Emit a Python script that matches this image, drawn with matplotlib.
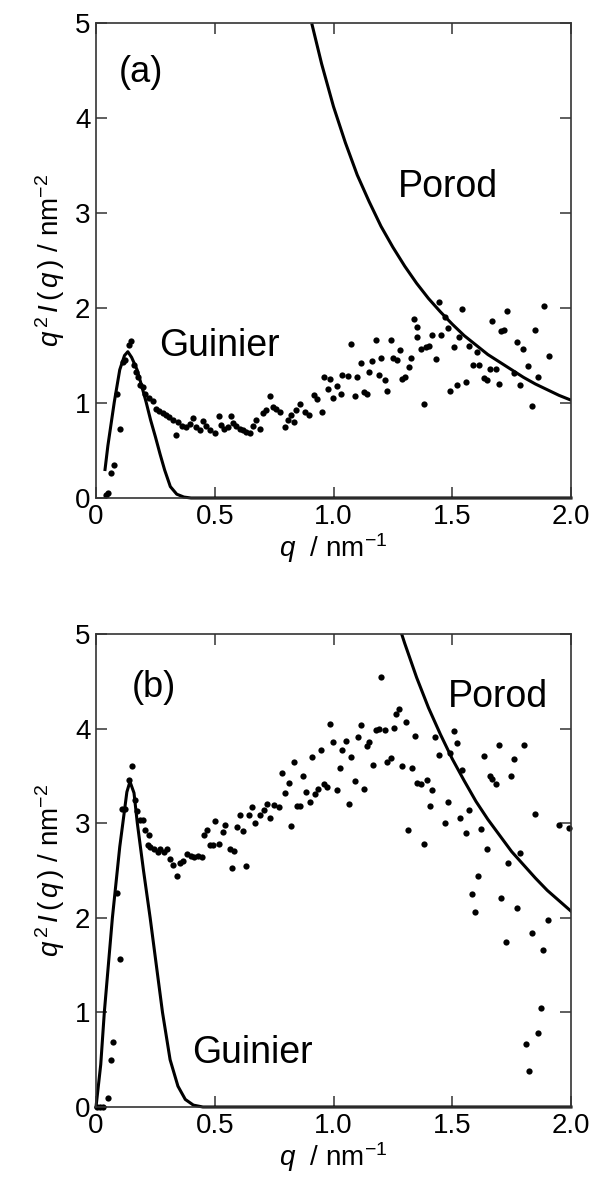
import matplotlib
matplotlib.use('Agg')
from matplotlib import pyplot as plt

plt.rcParams['font.family'] = ['Liberation Sans', 'DejaVu Sans']
plt.rcParams['mathtext.fontset'] = 'custom'
plt.rcParams['mathtext.rm'] = 'Liberation Sans'
plt.rcParams['mathtext.it'] = 'Liberation Sans:italic'

# ---- panel (a): measured points ----
q_a = [0.042, 0.050, 0.062, 0.074, 0.087, 0.101, 0.113, 0.124, 0.141, 0.148,
       0.162, 0.169, 0.176, 0.186, 0.197, 0.208, 0.222, 0.239, 0.253, 0.267,
       0.281, 0.295, 0.309, 0.323, 0.338, 0.345, 0.363, 0.377, 0.394, 0.408,
       0.422, 0.436, 0.450, 0.464, 0.481, 0.499, 0.518, 0.527, 0.541, 0.556,
       0.570, 0.577, 0.591, 0.605, 0.619, 0.633, 0.647, 0.661, 0.675, 0.689,
       0.703, 0.717, 0.731, 0.745, 0.759, 0.774, 0.795, 0.809, 0.823, 0.833,
       0.844, 0.861, 0.882, 0.896, 0.917, 0.931, 0.952, 0.959, 0.977, 0.984,
       0.999, 1.013, 1.030, 1.037, 1.061, 1.075, 1.089, 1.100, 1.114, 1.128,
       1.139, 1.150, 1.164, 1.177, 1.191, 1.201, 1.215, 1.226, 1.240, 1.251,
       1.266, 1.280, 1.289, 1.303, 1.317, 1.327, 1.341, 1.353, 1.353, 1.367,
       1.381, 1.388, 1.402, 1.416, 1.430, 1.444, 1.454, 1.468, 1.480, 1.491,
       1.508, 1.519, 1.529, 1.543, 1.557, 1.571, 1.589, 1.606, 1.613, 1.632,
       1.648, 1.660, 1.669, 1.684, 1.697, 1.707, 1.718, 1.732, 1.758, 1.772,
       1.786, 1.796, 1.820, 1.834, 1.848, 1.859, 1.885, 1.909]
i_a = [0.03, 0.05, 0.26, 0.35, 1.10, 0.73, 1.43, 1.45, 1.61, 1.65,
       1.40, 1.33, 1.27, 1.19, 1.17, 1.10, 1.05, 1.02, 0.94, 0.92,
       0.90, 0.87, 0.85, 0.82, 0.66, 0.80, 0.76, 0.75, 0.78, 0.84,
       0.75, 0.72, 0.81, 0.76, 0.72, 0.68, 0.86, 0.77, 0.73, 0.75,
       0.86, 0.79, 0.76, 0.73, 0.72, 0.70, 0.68, 0.76, 0.82, 0.73,
       0.89, 0.93, 1.07, 0.96, 0.94, 0.91, 0.75, 0.82, 0.87, 0.80,
       0.93, 0.99, 0.91, 0.87, 1.08, 1.04, 0.91, 1.27, 1.15, 1.25,
       1.05, 1.18, 1.09, 1.30, 1.28, 1.62, 1.07, 1.27, 1.42, 1.12,
       1.10, 1.33, 1.44, 1.66, 1.29, 1.47, 1.24, 1.13, 1.66, 1.47,
       1.45, 1.56, 1.25, 1.27, 1.38, 1.47, 1.88, 1.70, 1.80, 1.57,
       0.99, 1.59, 1.60, 1.72, 1.46, 2.06, 1.72, 1.91, 1.79, 1.13,
       1.59, 1.19, 1.69, 1.99, 1.22, 1.60, 1.40, 1.54, 1.40, 1.26,
       1.24, 1.36, 1.86, 1.36, 1.20, 1.76, 1.77, 1.97, 1.32, 1.64,
       1.19, 1.57, 1.39, 0.97, 1.77, 1.27, 2.02, 1.49]

# panel (a): Guinier and Porod lines
guin_q_a = [0.038, 0.05, 0.077, 0.10, 0.12, 0.134, 0.15, 0.173, 0.19, 0.211,
            0.23, 0.25, 0.27, 0.289, 0.313, 0.34, 0.37, 0.40, 0.5, 1.0, 2.0]
guin_i_a = [0.30, 0.55, 1.01, 1.35, 1.50, 1.54, 1.48, 1.35, 1.20, 1.01,
            0.82, 0.645, 0.46, 0.295, 0.12, 0.04, 0.01, 0.0, 0.0, 0.0, 0.0]
porod_q_a = [0.91, 0.95, 1.00, 1.05, 1.10, 1.15, 1.20, 1.25, 1.30, 1.35, 1.40,
             1.45, 1.50, 1.55, 1.60, 1.65, 1.70, 1.75, 1.80, 1.85, 1.90, 1.95, 2.00]
porod_i_a = [4.98, 4.57, 4.12, 3.74, 3.40, 3.12, 2.86, 2.64, 2.44, 2.26, 2.10,
             1.96, 1.83, 1.71, 1.61, 1.51, 1.43, 1.35, 1.27, 1.20, 1.14, 1.08, 1.03]

# ---- panel (b): measured points ----
q_b = [0.006, 0.017, 0.030, 0.052, 0.062, 0.073, 0.087, 0.101, 0.108, 0.122,
       0.138, 0.152, 0.164, 0.174, 0.186, 0.197, 0.207, 0.217, 0.225, 0.228,
       0.245, 0.259, 0.270, 0.287, 0.301, 0.312, 0.326, 0.340, 0.352, 0.366,
       0.383, 0.400, 0.411, 0.428, 0.446, 0.456, 0.467, 0.478, 0.492, 0.502,
       0.516, 0.534, 0.544, 0.565, 0.572, 0.582, 0.593, 0.608, 0.619, 0.633,
       0.643, 0.657, 0.671, 0.692, 0.709, 0.720, 0.734, 0.748, 0.769, 0.783,
       0.797, 0.811, 0.823, 0.835, 0.847, 0.861, 0.872, 0.886, 0.900, 0.910,
       0.924, 0.934, 0.948, 0.962, 0.973, 0.987, 0.999, 1.013, 1.027, 1.037,
       1.051, 1.065, 1.075, 1.089, 1.102, 1.114, 1.128, 1.139, 1.149, 1.167,
       1.177, 1.191, 1.201, 1.215, 1.226, 1.240, 1.254, 1.262, 1.276, 1.290,
       1.304, 1.315, 1.329, 1.342, 1.353, 1.367, 1.379, 1.393, 1.407, 1.416,
       1.426, 1.444, 1.469, 1.480, 1.491, 1.508, 1.519, 1.533, 1.543, 1.557,
       1.571, 1.585, 1.595, 1.609, 1.620, 1.632, 1.648, 1.660, 1.669, 1.684,
       1.697, 1.707, 1.726, 1.736, 1.747, 1.758, 1.772, 1.786, 1.800, 1.810,
       1.825, 1.834, 1.848, 1.859, 1.873, 1.884, 1.904, 1.950, 1.990]
i_b = [0.0, 0.0, 0.0, 0.10, 0.50, 0.69, 2.26, 1.56, 3.15, 3.15,
       3.46, 3.60, 3.25, 3.13, 3.03, 3.03, 2.93, 2.77, 2.87, 2.75,
       2.73, 2.70, 2.73, 2.70, 2.73, 2.62, 2.56, 2.44, 2.58, 2.60,
       2.67, 2.65, 2.64, 2.65, 2.64, 2.87, 2.93, 2.77, 2.77, 3.02,
       2.78, 2.91, 2.98, 2.73, 2.53, 2.71, 2.96, 3.09, 2.92, 2.55,
       3.09, 3.17, 3.00, 3.09, 3.14, 3.20, 3.06, 3.19, 3.17, 3.53,
       3.32, 3.43, 2.97, 3.65, 3.18, 3.18, 3.50, 3.33, 3.22, 3.70,
       3.31, 3.36, 3.77, 3.41, 3.38, 4.05, 3.86, 3.35, 3.58, 3.77,
       3.87, 3.20, 3.70, 3.45, 3.91, 4.04, 3.36, 3.82, 3.86, 3.61,
       3.99, 4.00, 4.55, 3.98, 3.65, 3.69, 4.01, 4.15, 4.21, 3.60,
       4.07, 2.93, 3.58, 3.92, 3.43, 3.41, 2.78, 3.46, 3.18, 3.35,
       3.91, 3.72, 3.00, 3.22, 3.74, 3.97, 3.85, 3.05, 3.56, 2.90,
       3.14, 2.25, 2.06, 2.44, 2.94, 3.71, 2.73, 3.50, 3.47, 3.41,
       3.83, 2.21, 1.74, 2.58, 3.50, 3.68, 2.10, 2.68, 3.83, 0.67,
       0.38, 1.84, 3.10, 0.78, 1.05, 1.66, 1.98, 2.98, 2.95]

guin_q_b = [0.0, 0.02, 0.035, 0.069, 0.10, 0.113, 0.13, 0.143, 0.16, 0.174,
            0.20, 0.228, 0.255, 0.28, 0.312, 0.345, 0.376, 0.41, 0.45, 0.5, 1.0, 2.0]
guin_i_b = [0.0, 0.45, 1.0, 2.0, 2.75, 3.0, 3.33, 3.44, 3.32, 3.0,
            2.5, 2.0, 1.48, 1.0, 0.5, 0.22, 0.08, 0.02, 0.0, 0.0, 0.0, 0.0]
porod_q_b = [1.287, 1.30, 1.35, 1.40, 1.45, 1.50, 1.55, 1.60, 1.65, 1.70,
             1.75, 1.80, 1.85, 1.90, 1.95, 2.00]
porod_i_b = [5.00, 4.90, 4.54, 4.22, 3.94, 3.68, 3.45, 3.23, 3.04, 2.87,
             2.70, 2.56, 2.42, 2.29, 2.18, 2.07]

xticks = [0, 0.5, 1.0, 1.5, 2.0]
xticklabels = ['0', '0.5', '1.0', '1.5', '2.0']
yticks = [0, 1, 2, 3, 4, 5]

W, H = 593, 1186
fig = plt.figure(figsize=(W / 100, H / 100), dpi=100)
ax_a = fig.add_axes([96 / W, 1 - 498 / H, 475 / W, 475 / H])
ax_b = fig.add_axes([96 / W, 1 - 1107 / H, 475 / W, 473 / H])

ylab = r'$q^{\,2}\,I\,(\,q\,)$ / nm$^{-2}$'
xlab = r'$q$  / nm$^{-1}$'

def style(ax):
    ax.set_xlim(0, 2.0)
    ax.set_ylim(0, 5)
    ax.set_xticks(xticks)
    ax.set_xticklabels(xticklabels)
    ax.set_yticks(yticks)
    ax.tick_params(direction='in', length=8, width=1.1, color='#333333',
                   top=True, right=True, labelsize=20, pad=4)
    for s in ax.spines.values():
        s.set_linewidth(1.2)
        s.set_color('#333333')
    ax.set_xlabel(xlab, fontsize=20, labelpad=1)
    ax.set_ylabel(ylab, fontsize=20, labelpad=6)

for ax, q, iq, gq, gi, pq, pi, tag in [
        (ax_a, q_a, i_a, guin_q_a, guin_i_a, porod_q_a, porod_i_a, '(a)'),
        (ax_b, q_b, i_b, guin_q_b, guin_i_b, porod_q_b, porod_i_b, '(b)')]:
    ax.plot(gq, gi, color='black', lw=2.2, solid_joinstyle='round', clip_on=False)
    ax.plot(pq, pi, color='black', lw=2.2, solid_joinstyle='round')
    ax.plot(q, iq, 'o', color='black', ms=4.5, mew=0, clip_on=False)
    style(ax)

ax_a.text(0.097, 4.38, '(a)', fontsize=26)
ax_a.text(0.266, 1.49, 'Guinier', fontsize=27)
ax_a.text(1.27, 3.17, 'Porod', fontsize=27)

ax_b.text(0.152, 4.33, '(b)', fontsize=26)
ax_b.text(0.405, 0.47, 'Guinier', fontsize=27)
ax_b.text(1.48, 4.23, 'Porod', fontsize=27)

plt.savefig('out.png', dpi=100)
